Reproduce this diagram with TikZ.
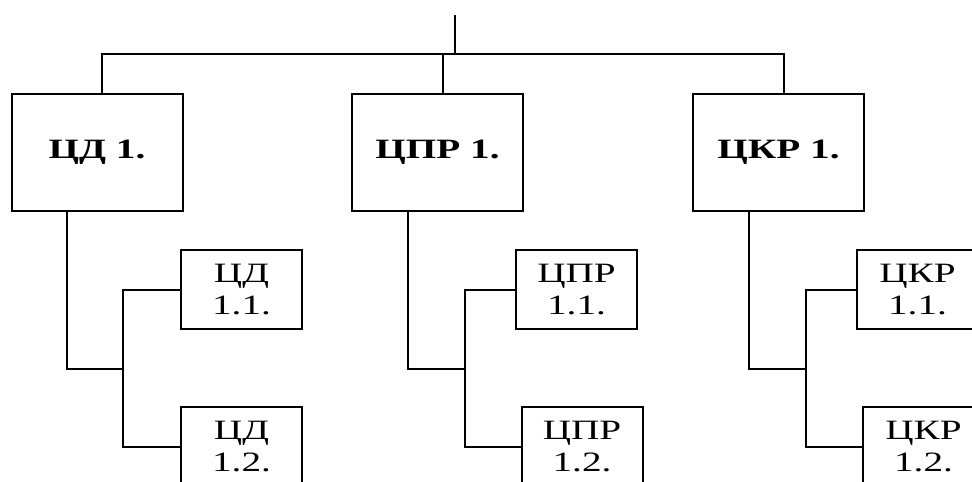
\documentclass[tikz,border=0pt]{standalone}
\usepackage{fontspec}
\setmainfont{Liberation Serif}
\usetikzlibrary{positioning,calc}
\newcommand{\wide}[1]{\scalebox{1.4}[1]{#1}}

\begin{document}
\begin{tikzpicture}[x=0.5pt,y=-0.5pt]
    \tikzstyle{every node}=[font=\fontsize{14}{16}\selectfont]
    \tikzstyle{bigbox}=[draw, line width=1pt, minimum width=85.5pt, minimum height=58.5pt, inner sep=0pt, font=\fontsize{14}{16}\selectfont\bfseries]
    \tikzstyle{smallbox}=[draw, line width=1pt, minimum width=60.5pt, minimum height=39.5pt, inner sep=0pt, align=center]
    \useasboundingbox (0,0) rectangle (972,481);
    \clip (0,0) rectangle (972,481);
    \node[bigbox] (D) at (97,152.5) {\wide{ЦД 1.}}; %
    \node[bigbox] (P) at ($(D)+(340.5,0)$) {\wide{ЦПР 1.}}; %
    \node[bigbox] (K) at ($(P)+(341,0)$) {\wide{ЦКР 1.}}; %
    \node[smallbox] (D1) at ($(D)+(144.5,137)$) {\wide{ЦД}\\\wide{1.1.}}; %
    \node[smallbox] (D2) at ($(D1)+(0,157)$) {\wide{ЦД}\\\wide{1.2.}}; %
    \node[smallbox] (P1) at ($(P)+(139,137)$) {\wide{ЦПР}\\\wide{1.1.}}; %
    \node[smallbox] (P2) at ($(P1)+(5.5,157)$) {\wide{ЦПР}\\\wide{1.2.}}; %
    \node[smallbox] (K1) at ($(K)+(139,137)$) {\wide{ЦКР}\\\wide{1.1.}}; %
    \node[smallbox] (K2) at ($(K1)+(6,157)$) {\wide{ЦКР}\\\wide{1.2.}}; %
    \coordinate (top) at (455,15); %
    \coordinate (bus) at (455,54); %
    \coordinate (Dj) at ($(D.south west)+(112,157)$); %
    \coordinate (Pj) at ($(P.south west)+(114,157)$); %
    \coordinate (Kj) at ($(K.south west)+(114,157)$); %
    \draw[line width=1pt] (top) -- (bus); %
    \draw[line width=1pt] ($(D.north)+(5,0)$) |- (bus) -| ($(K.north)+(5.5,0)$); %
    \draw[line width=1pt] ($(P.north)+(5.5,0)$) |- (bus); %
    \draw[line width=1pt] ($(D.south west)+(56,0)$) |- (Dj); %
    \draw[line width=1pt] (D1.west) -| (Dj) |- (D2.west); %
    \draw[line width=1pt] ($(P.south west)+(57,0)$) |- (Pj); %
    \draw[line width=1pt] (P1.west) -| (Pj) |- (P2.west); %
    \draw[line width=1pt] ($(K.south west)+(57,0)$) |- (Kj); %
    \draw[line width=1pt] (K1.west) -| (Kj) |- (K2.west); %
\end{tikzpicture}
\end{document}
